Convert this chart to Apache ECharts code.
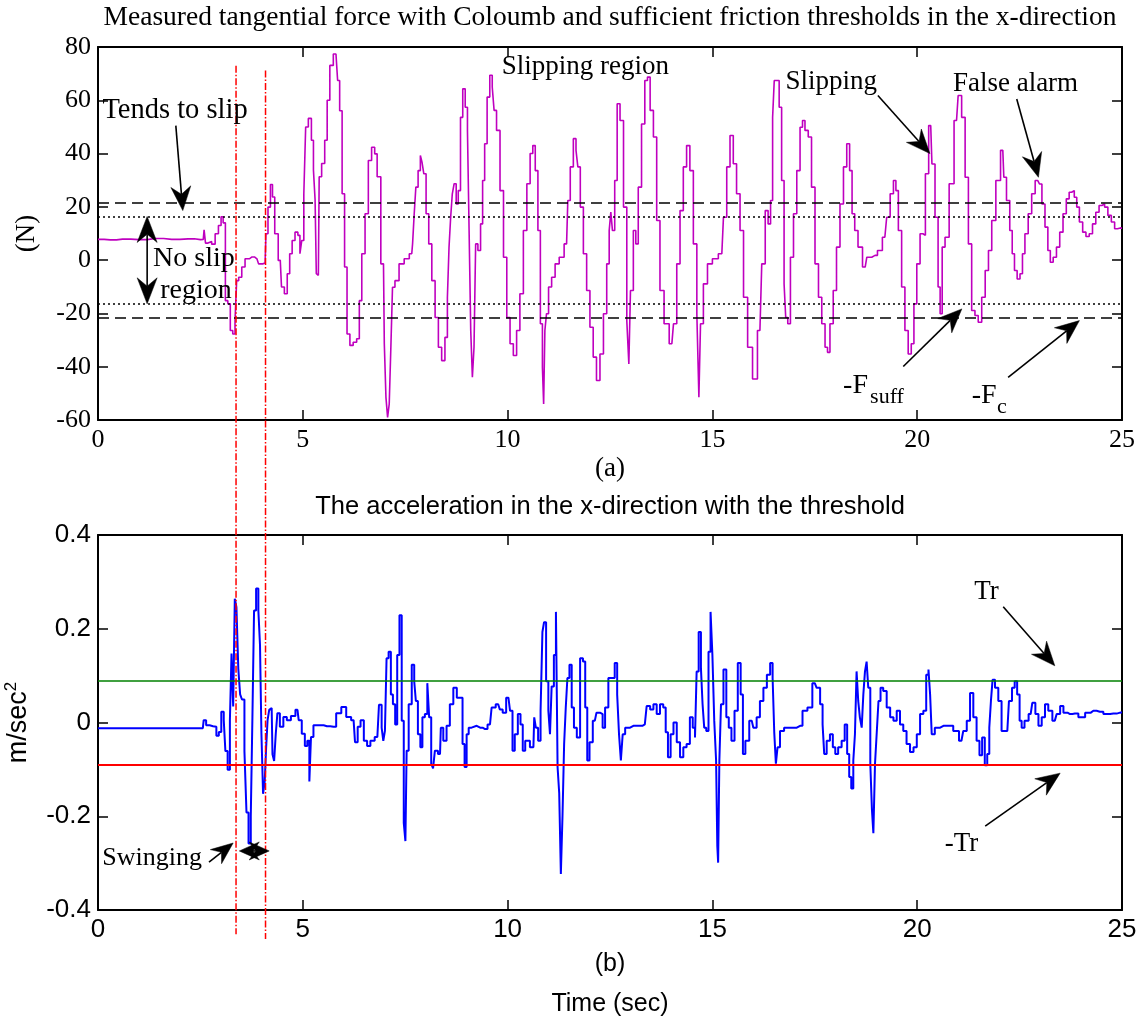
<!DOCTYPE html>
<html>
<head>
<meta charset="utf-8">
<script src="https://cdn.jsdelivr.net/npm/echarts/dist/echarts.min.js"></script>
<style>
  html, body { margin: 0; padding: 0; background: #fff; }
  #main { width: 1147px; height: 1019px; }
</style>
</head>
<body>
<div id="main"></div>
<script>
// Tangential force (N) sampled over time (s)
const forceTime = [0, 0.3, 0.6, 1.0, 1.4, 1.8, 2.2, 2.5, 2.57, 2.61, 2.64, 2.73, 2.82, 2.90, 2.98, 3.03, 3.08, 3.14, 3.20, 3.26, 3.32, 3.37, 3.40, 3.47, 3.55, 3.63, 3.76, 3.88, 3.96, 4.08, 4.12, 4.18, 4.24, 4.28, 4.35, 4.45, 4.51, 4.59, 4.65, 4.71, 4.77, 4.85, 4.91, 4.95, 5.00, 5.05, 5.09, 5.18, 5.24, 5.28, 5.32, 5.34, 5.38, 5.42, 5.50, 5.57, 5.62, 5.70, 5.79, 5.83, 5.87, 5.93, 5.99, 6.05, 6.11, 6.19, 6.27, 6.36, 6.40, 6.48, 6.56, 6.64, 6.72, 6.79, 6.84, 6.97, 7.01, 7.05, 7.09, 7.13, 7.17, 7.21, 7.29, 7.41, 7.54, 7.66, 7.70, 7.74, 7.78, 7.85, 7.89, 7.93, 7.98, 8.04, 8.11, 8.19, 8.27, 8.35, 8.43, 8.51, 8.55, 8.59, 8.63, 8.67, 8.72, 8.77, 8.82, 8.88, 8.93, 9.00, 9.04, 9.08, 9.12, 9.16, 9.20, 9.24, 9.31, 9.37, 9.41, 9.47, 9.53, 9.60, 9.65, 9.69, 9.77, 9.86, 9.94, 10.02, 10.10, 10.18, 10.26, 10.34, 10.43, 10.51, 10.59, 10.64, 10.71, 10.77, 10.83, 10.87, 10.89, 10.93, 10.97, 11.03, 11.12, 11.20, 11.32, 11.44, 11.50, 11.56, 11.65, 11.69, 11.74, 11.81, 11.89, 11.97, 12.05, 12.13, 12.21, 12.30, 12.38, 12.46, 12.50, 12.54, 12.58, 12.65, 12.70, 12.79, 12.87, 12.95, 12.97, 13.03, 13.11, 13.15, 13.23, 13.31, 13.39, 13.44, 13.52, 13.60, 13.68, 13.76, 13.88, 14.01, 14.09, 14.17, 14.25, 14.33, 14.41, 14.49, 14.58, 14.66, 14.68, 14.74, 14.82, 14.94, 15.06, 15.23, 15.31, 15.39, 15.47, 15.55, 15.63, 15.72, 15.80, 15.92, 16.04, 16.16, 16.25, 16.33, 16.39, 16.45, 16.49, 16.53, 16.61, 16.65, 16.73, 16.77, 16.81, 16.87, 16.94, 17.02, 17.10, 17.18, 17.22, 17.30, 17.38, 17.46, 17.55, 17.63, 17.71, 17.79, 17.83, 17.91, 17.99, 18.07, 18.16, 18.24, 18.32, 18.38, 18.44, 18.51, 18.60, 18.73, 18.81, 18.97, 19.09, 19.21, 19.30, 19.38, 19.46, 19.50, 19.58, 19.66, 19.74, 19.82, 19.89, 19.95, 20.03, 20.11, 20.17, 20.23, 20.33, 20.39, 20.48, 20.54, 20.58, 20.64, 20.72, 20.84, 20.96, 21.04, 21.13, 21.21, 21.29, 21.37, 21.45, 21.53, 21.62, 21.70, 21.78, 21.86, 21.98, 22.09, 22.14, 22.22, 22.30, 22.34, 22.41, 22.47, 22.55, 22.59, 22.67, 22.75, 22.84, 22.92, 22.96, 23.01, 23.08, 23.16, 23.22, 23.28, 23.36, 23.44, 23.52, 23.60, 23.68, 23.74, 23.80, 23.87, 23.92, 24.00, 24.08, 24.16, 24.24, 24.32, 24.40, 24.48, 24.54, 24.61, 24.70, 24.78, 24.86, 24.92, 25.0];
const forceN = [7.8, 7.6, 7.9, 7.7, 8.1, 7.8, 8.0, 7.7, 7.8, 11.4, 6.4, 7.0, 6.0, 9.9, 13.0, 16.3, 14.0, -15.2, -16.4, -26.4, -27.7, -22.7, -7.7, -6.4, -2.6, 0.5, 1.2, 0.5, -1.4, -1.1, 9.9, 19.9, 28.4, 23.7, 9.9, -0.1, -10.1, -12.6, -5.1, 2.4, 7.4, 10.5, 9.3, 2.4, 7.4, 24.9, 50, 53.2, 45, 33.8, 22.6, -5.1, -5.7, 31.3, 36.3, 45, 60, 73.1, 77.4, 77.4, 67.4, 56.1, 24.9, -2.6, -27.7, -32, -30.8, -29.5, -15.2, 2.4, 17.4, 37.4, 42.4, 39.9, 31.3, -1.4, -31.4, -51.5, -59, -54, -32.7, -10.2, -7.7, -1.4, 0.5, 2.4, 6.1, 17.4, 27.4, 33.6, 39.3, 36.8, 32.4, 17.4, 6.1, -7.7, -21.5, -32.7, -37.7, -29, -14, 4.9, 16.1, 24.9, 28.7, 21.1, 26.1, 53.6, 64.3, 57.4, 48.6, 11.1, -26.4, -43.9, -32.7, 6.1, 3.6, 13.6, 29.9, 43.7, 61.2, 69.4, 65, 56.2, 48.7, 26.1, 1.1, -21.5, -31.4, -35.8, -26.4, -12.6, 11.1, 28.7, 40, 43, 33.6, 11.1, -23.9, -40.2, -54, -26.4, -20.1, -10.1, -6.4, -1.4, 1.1, 6.1, 22.4, 35, 45.6, 41.2, 35, 19.9, 2.4, -11.4, -25.2, -36.4, -45.2, -35.2, -20.1, -1.4, 11.1, 18, 11.1, 29.9, 58.7, 52.4, 19.9, -22.7, -39, -11.4, 11.1, 6.1, 27.4, 51.1, 67.4, 68.7, 56.2, 46.2, 14.9, -11.4, -23.9, -31.4, -23.9, -1.4, 18.6, 35, 43, 33.6, 6.1, -20.1, -51.5, -23.9, -8.9, -1.4, 0.5, 2.4, 16.1, 35, 46.8, 36.2, 24.9, 11.1, -13.9, -32.7, -44.6, -26.4, -1.4, 18.6, 13.6, 22.4, 53.6, 67.4, 67.4, 57.4, 29.9, -8.9, -21.5, -23.9, 1.1, 17.4, 33.6, 49.9, 52.4, 48.7, 46.2, 27.4, -1.4, -13.9, -23.9, -32.7, -34.6, -23.9, -11.4, 4.9, 21.1, 35, 43.7, 33.6, 17.4, 11.1, 4.9, -2.6, 1.1, 1.8, 3.6, 8.6, 16.1, 24.9, 29.9, 26.1, 11.1, -10.1, -26.4, -35.2, -31.4, -16.4, -1.4, 9.9, 9.3, 32.4, 50.5, 36.1, 16.1, -10.1, -20.1, 4.9, 8.6, 28.7, 52.4, 61.8, 53.6, 31.1, 6.1, -18.9, -20.8, -23.3, -13.9, -3.9, 3.6, 14.9, 29.9, 41.2, 31.1, 22.4, 11.1, 2.4, -3.9, -7.1, -5.1, 2.4, 9.9, 17.4, 24.9, 29.9, 30.5, 28.6, 21.1, 12.4, 3.6, -0.8, 1.1, 4.9, 10.5, 17.4, 23.0, 25.5, 26.1, 23.6, 19.9, 14.3, 10.5, 8.9, 9.9, 13.6, 18.0, 20.5, 21.1, 19.9, 16.8, 14.3, 11.8, 12.1, 12.0];

// Acceleration (m/sec^2) sampled over time (s)
const accTime = [0, 2.56, 2.60, 2.68, 2.77, 2.85, 2.93, 2.97, 3.05, 3.09, 3.13, 3.20, 3.24, 3.28, 3.32, 3.36, 3.40, 3.45, 3.49, 3.54, 3.61, 3.64, 3.71, 3.75, 3.79, 3.83, 3.89, 3.94, 3.97, 4.01, 4.05, 4.09, 4.12, 4.16, 4.20, 4.24, 4.28, 4.32, 4.36, 4.40, 4.48, 4.57, 4.65, 4.77, 4.87, 4.93, 5.02, 5.08, 5.14, 5.18, 5.22, 5.30, 5.43, 5.59, 5.75, 5.88, 6.00, 6.12, 6.24, 6.31, 6.37, 6.45, 6.53, 6.61, 6.69, 6.82, 6.90, 6.95, 6.98, 7.03, 7.06, 7.13, 7.17, 7.23, 7.28, 7.33, 7.39, 7.44, 7.49, 7.52, 7.55, 7.62, 7.70, 7.74, 7.78, 7.84, 7.90, 7.94, 8.02, 8.06, 8.11, 8.16, 8.20, 8.25, 8.35, 8.39, 8.47, 8.55, 8.63, 8.72, 8.80, 8.88, 8.92, 8.98, 9.02, 9.08, 9.16, 9.33, 9.45, 9.57, 9.65, 9.77, 9.85, 9.91, 10.02, 10.10, 10.14, 10.21, 10.29, 10.34, 10.40, 10.46, 10.63, 10.67, 10.71, 10.78, 10.83, 10.87, 10.91, 10.97, 11.02, 11.05, 11.10, 11.16, 11.20, 11.24, 11.28, 11.32, 11.36, 11.40, 11.44, 11.48, 11.54, 11.59, 11.65, 11.73, 11.81, 11.87, 11.92, 11.97, 12.03, 12.13, 12.21, 12.30, 12.34, 12.42, 12.50, 12.58, 12.65, 12.70, 12.74, 12.79, 12.83, 12.91, 13.07, 13.23, 13.35, 13.44, 13.52, 13.60, 13.68, 13.76, 13.84, 13.88, 13.95, 14.01, 14.09, 14.17, 14.25, 14.33, 14.41, 14.49, 14.55, 14.60, 14.63, 14.70, 14.74, 14.78, 14.82, 14.88, 14.93, 14.98, 15.02, 15.07, 15.11, 15.13, 15.15, 15.19, 15.23, 15.31, 15.37, 15.43, 15.50, 15.58, 15.66, 15.72, 15.77, 15.84, 15.96, 16.04, 16.12, 16.20, 16.29, 16.37, 16.45, 16.49, 16.53, 16.57, 16.61, 16.69, 16.81, 16.98, 17.14, 17.26, 17.38, 17.50, 17.59, 17.67, 17.71, 17.75, 17.83, 17.91, 17.97, 18.03, 18.11, 18.20, 18.26, 18.32, 18.36, 18.42, 18.46, 18.50, 18.54, 18.58, 18.62, 18.67, 18.70, 18.75, 18.78, 18.83, 18.88, 18.91, 18.95, 18.99, 19.03, 19.08, 19.13, 19.21, 19.30, 19.38, 19.46, 19.54, 19.62, 19.70, 19.78, 19.87, 19.95, 20.03, 20.11, 20.19, 20.25, 20.30, 20.33, 20.38, 20.48, 20.64, 20.80, 20.96, 21.08, 21.17, 21.25, 21.33, 21.41, 21.49, 21.55, 21.62, 21.68, 21.74, 21.78, 21.82, 21.86, 21.94, 22.02, 22.10, 22.20, 22.28, 22.35, 22.41, 22.47, 22.53, 22.57, 22.67, 22.77, 22.85, 22.92, 23.00, 23.08, 23.16, 23.24, 23.36, 23.45, 23.53, 23.61, 23.73, 23.85, 24.02, 24.18, 24.30, 24.46, 24.63, 24.79, 24.95, 25.0];
const accVal = [-0.012, -0.012, 0.005, -0.006, -0.008, -0.009, -0.028, -0.020, 0.023, 0.005, -0.061, -0.101, 0.005, 0.147, 0.034, 0.264, 0.246, 0.115, 0.060, 0.049, -0.061, -0.192, -0.258, -0.199, 0.012, 0.239, 0.286, 0.239, 0.166, -0.024, -0.152, -0.126, -0.053, 0.005, 0.027, 0.031, -0.068, -0.082, -0.024, 0.020, -0.009, 0.012, 0.005, 0.014, 0.027, 0.005, -0.024, -0.050, -0.039, -0.126, -0.031, -0.006, -0.006, -0.008, -0.009, 0.020, 0.033, 0.012, 0.005, -0.042, -0.009, 0.005, -0.039, -0.050, -0.039, -0.031, 0.038, -0.011, -0.039, -0.018, 0.137, 0.151, 0.060, 0.039, -0.004, 0.144, 0.229, 0.004, -0.214, -0.253, -0.060, 0.039, 0.123, 0.088, 0.046, -0.025, -0.053, 0.011, 0.018, 0.084, 0.011, -0.088, -0.098, -0.060, -0.067, -0.011, -0.039, -0.007, 0.039, 0.074, 0.053, 0.053, -0.046, -0.095, -0.025, -0.011, -0.007, -0.011, -0.014, -0.004, 0.032, 0.039, 0.028, 0.021, 0.053, 0.025, -0.060, -0.025, 0.018, -0.004, -0.060, -0.039, -0.053, 0.011, -0.011, -0.039, 0.025, 0.193, 0.214, 0.088, 0.025, -0.025, 0.077, 0.144, 0.236, -0.095, -0.151, -0.323, -0.200, -0.046, 0.032, 0.095, 0.123, 0.032, -0.011, -0.032, 0.137, 0.130, 0.032, -0.081, -0.042, 0.004, 0.021, 0.018, -0.011, 0.032, 0.095, 0.095, 0.127, 0.060, -0.025, -0.081, -0.025, -0.011, -0.007, -0.007, -0.004, 0.035, 0.028, 0.039, 0.018, 0.039, 0.032, -0.021, -0.074, -0.025, 0.000, -0.042, -0.074, -0.053, -0.046, 0.011, -0.011, -0.032, 0.109, 0.193, 0.116, 0.039, -0.011, -0.018, 0.151, 0.236, 0.144, 0.004, -0.081, -0.264, -0.299, -0.081, 0.039, 0.113, 0.011, -0.011, -0.039, 0.025, 0.127, 0.060, -0.067, -0.039, 0.004, -0.011, 0.011, 0.046, 0.074, 0.102, 0.127, 0.095, -0.021, -0.088, -0.053, -0.018, -0.011, -0.011, -0.007, 0.025, 0.032, 0.084, 0.074, 0.039, -0.004, -0.067, -0.039, -0.025, -0.053, -0.067, -0.053, -0.039, -0.004, -0.067, -0.116, -0.141, -0.081, -0.025, 0.109, 0.046, 0.011, -0.011, 0.060, 0.109, 0.130, 0.074, -0.088, -0.186, -0.236, -0.088, -0.025, 0.046, 0.074, 0.067, 0.032, 0.011, 0.004, 0.025, -0.004, -0.018, -0.046, -0.063, -0.053, -0.025, 0.018, 0.025, 0.102, 0.113, 0.060, -0.025, -0.011, -0.007, -0.007, -0.018, -0.039, -0.018, 0.004, 0.063, 0.011, -0.039, -0.070, -0.032, -0.091, -0.067, -0.011, 0.046, 0.091, 0.074, 0.046, -0.018, -0.018, 0.046, 0.074, 0.088, 0.060, 0.004, -0.011, 0.004, 0.018, 0.042, 0.018, -0.007, 0.011, 0.039, 0.025, 0.004, 0.018, 0.035, 0.021, 0.018, 0.019, 0.011, 0.021, 0.025, 0.023, 0.018, 0.019, 0.021, 0.022];

// Friction thresholds (N) and acceleration threshold (m/sec^2)
const frictionCoulomb = 21.7;
const frictionSufficient = 16.4;
const accThreshold = 0.09;
// Times (s) of the swing events marked across both panels
const swingEvents = [3.37, 4.09];

const SERIF = '"Liberation Serif", "Times New Roman", serif';
const SANS = '"Liberation Sans", Arial, sans-serif';

const zip = (a, b) => a.slice(0, Math.min(a.length, b.length)).map((v, i) => [v, b[i]]);

const chart = echarts.init(document.getElementById('main'), null, { renderer: 'canvas' });

function xAxisDef(grid, pos, font, fontSize, showLabel, name, nameGap, nameStyle) {
  return {
    gridIndex: grid, type: 'value', min: 0, max: 25, interval: 5, position: pos,
    axisLine: { show: true, onZero: false, lineStyle: { color: '#000', width: 2 } },
    axisTick: { show: true, inside: true, length: 10, lineStyle: { color: '#000', width: 1.5 } },
    axisLabel: { show: showLabel, fontFamily: font, fontSize: fontSize, color: '#000', margin: 7 },
    splitLine: { show: false },
    name: name || '', nameLocation: 'middle', nameGap: nameGap || 0,
    nameTextStyle: nameStyle || {}
  };
}
function yAxisDef(grid, pos, min, max, interval, font, fontSize, showLabel, name, nameGap, nameStyle) {
  return {
    gridIndex: grid, type: 'value', min, max, interval, position: pos,
    axisLine: { show: true, onZero: false, lineStyle: { color: '#000', width: 2 } },
    axisTick: { show: true, inside: true, length: 10, lineStyle: { color: '#000', width: 1.5 } },
    axisLabel: { show: showLabel, fontFamily: font, fontSize: fontSize, color: '#000', margin: 7 },
    splitLine: { show: false },
    name: name || '', nameLocation: 'middle', nameGap: nameGap || 0, nameRotate: 90,
    nameTextStyle: nameStyle || {}
  };
}

const option = {
  animation: false,
  backgroundColor: '#fff',
  grid: [
    { left: 98, right: 25, top: 47, height: 373, containLabel: false, outerBoundsMode: 'none' },
    { left: 98, right: 25, top: 535, height: 375, containLabel: false, outerBoundsMode: 'none' }
  ],
  xAxis: [
    xAxisDef(0, 'bottom', SERIF, 26, true, '(a)', 32,
      { fontFamily: SERIF, fontSize: 27, color: '#000', lineHeight: 30 }),
    xAxisDef(0, 'top', SERIF, 26, false),
    xAxisDef(1, 'bottom', SANS, 26, true, '(b)\nTime (sec)', 32,
      { fontFamily: SANS, fontSize: 25, color: '#000', lineHeight: 40 }),
    xAxisDef(1, 'top', SANS, 26, false)
  ],
  yAxis: [
    yAxisDef(0, 'left', -60, 80, 20, SERIF, 26, true, '(N)', 58,
      { fontFamily: SERIF, fontSize: 27, color: '#000' }),
    yAxisDef(0, 'right', -60, 80, 20, SERIF, 26, false),
    yAxisDef(1, 'left', -0.4, 0.4, 0.2, SANS, 26, true, 'm/sec{sup|2}', 64,
      { fontFamily: SANS, fontSize: 27, color: '#000',
        rich: { sup: { fontFamily: SANS, fontSize: 17, color: '#000', verticalAlign: 'top', padding: [0, 0, 14, 0] } } }),
    yAxisDef(1, 'right', -0.4, 0.4, 0.2, SANS, 26, false)
  ],
  series: [
    {
      name: 'Force', type: 'line', xAxisIndex: 0, yAxisIndex: 0,
      data: zip(forceTime, forceN), showSymbol: false, symbol: 'none', step: 'middle',
      lineStyle: { color: '#bf00bf', width: 1.6 }, z: 3,
      markLine: {
        silent: true, symbol: ['none', 'none'], label: { show: false },
        data: [
          { yAxis: frictionCoulomb, lineStyle: { color: '#000', type: [11, 6], width: 1.5 } },
          { yAxis: -frictionCoulomb, lineStyle: { color: '#000', type: [11, 6], width: 1.5 } },
          { yAxis: frictionSufficient, lineStyle: { color: '#000', type: [2, 3], width: 1.5 } },
          { yAxis: -frictionSufficient, lineStyle: { color: '#000', type: [2, 3], width: 1.5 } }
        ]
      }
    },
    {
      name: 'Acceleration', type: 'line', xAxisIndex: 2, yAxisIndex: 2,
      data: zip(accTime, accVal), showSymbol: false, symbol: 'none', step: 'middle',
      lineStyle: { color: '#0000ff', width: 2 }, z: 3,
      markLine: {
        silent: true, symbol: ['none', 'none'], label: { show: false },
        data: [
          { yAxis: accThreshold, lineStyle: { color: '#008000', type: 'solid', width: 1.5 } },
          { yAxis: -accThreshold, lineStyle: { color: '#ff0000', type: 'solid', width: 1.8 } }
        ]
      }
    }
  ]
};

chart.setOption(option);

// ---- annotations placed in data coordinates of each panel ----
const P0 = (x, y) => chart.convertToPixel({ seriesIndex: 0 }, [x, y]);
const P1 = (x, y) => chart.convertToPixel({ seriesIndex: 1 }, [x, y]);

function head(tip, ux, uy, len, half) {
  const nx = -uy, ny = ux;
  const bx = tip[0] - ux * len, by = tip[1] - uy * len;
  const notch = [tip[0] - ux * len * 0.68, tip[1] - uy * len * 0.68];
  return {
    el: {
      type: 'polygon', z: 10, silent: true,
      shape: { points: [tip, [bx + nx * half, by + ny * half], notch, [bx - nx * half, by - ny * half]] },
      style: { fill: '#000', stroke: '#000', lineWidth: 0.5 }
    },
    notch
  };
}
function arrow(a, b, opts) {
  opts = opts || {};
  const len = opts.len || 24, half = opts.half || 10;
  const dx = b[0] - a[0], dy = b[1] - a[1], L = Math.hypot(dx, dy);
  const ux = dx / L, uy = dy / L;
  const out = [];
  const h1 = head(b, ux, uy, len, half);
  out.push(h1.el);
  let start = a;
  if (opts.both) {
    const h0 = head(a, -ux, -uy, len, half);
    out.push(h0.el);
    start = h0.notch;
  }
  out.push({
    type: 'line', z: 10, silent: true,
    shape: { x1: start[0], y1: start[1], x2: h1.notch[0], y2: h1.notch[1] },
    style: { stroke: '#000', lineWidth: 1.6 }
  });
  return out;
}
function text(p, str, font, align) {
  return {
    type: 'text', z: 11, silent: true, x: p[0], y: p[1],
    style: {
      text: str, font, fill: '#000',
      align: align || 'center', verticalAlign: 'middle',
      textAlign: align || 'center', textVerticalAlign: 'middle'
    }
  };
}

const els = [];
const topY = P0(12.5, 80)[1];
const midX = P0(12.5, 0)[0];

// panel titles
els.push(text([midX, topY - 29],
  'Measured tangential force with Coloumb and sufficient friction thresholds in the x-direction',
  '27.5px ' + SERIF));
els.push(text([midX, P1(12.5, 0.4)[1] - 28],
  'The acceleration in the x-direction with the threshold', '25.5px ' + SANS));

// swing event markers spanning both panels
const eventTop = [73, 71.2];
const eventBottom = [-0.452, -0.462];
swingEvents.forEach((t, i) => {
  const a = P0(t, eventTop[i]);
  const b = P1(t, eventBottom[i]);
  els.push({
    type: 'line', z: 9, silent: true,
    shape: { x1: a[0], y1: a[1], x2: b[0], y2: b[1] },
    style: { stroke: '#ff0000', lineWidth: 1.5, lineDash: [7, 2, 1.5, 2] }
  });
});

const F27 = '27px ' + SERIF;
// upper panel notes
els.push(text(P0(1.88, 56.2), 'Tends to slip', '28.5px ' + SERIF));
els.push(...arrow(P0(1.90, 50.5), P0(2.07, 18.6)));
els.push(...arrow(P0(1.2, frictionSufficient), P0(1.2, -frictionSufficient), { both: true, len: 26, half: 10 }));
els.push(text(P0(2.34, 0.6), 'No slip', '28px ' + SERIF));
els.push(text(P0(2.39, -11.4), 'region', '28px ' + SERIF));
els.push(text(P0(11.9, 72.4), 'Slipping region', F27));
els.push(text(P0(17.9, 66.8), 'Slipping', F27));
els.push(...arrow(P0(19.04, 61.8), P0(20.31, 40.0)));
els.push(text(P0(22.4, 66.2), 'False alarm', F27));
els.push(...arrow(P0(22.43, 60.5), P0(22.96, 31.1)));
els.push(text(P0(18.19, -47.1), '-F', '28px ' + SERIF, 'left'));
els.push(text(P0(18.85, -51.6), 'suff', '22px ' + SERIF, 'left'));
els.push(...arrow(P0(19.66, -39.9), P0(21.09, -18.3)));
els.push(text(P0(21.33, -50.8), '-F', '28px ' + SERIF, 'left'));
els.push(text(P0(21.95, -55.2), 'c', '22px ' + SERIF, 'left'));
els.push(...arrow(P0(22.22, -44.0), P0(23.96, -22.7)));

// lower panel notes
els.push(text(P1(21.69, 0.279), 'Tr', F27));
els.push(...arrow(P1(22.1, 0.247), P1(23.36, 0.121)));
els.push(text(P1(21.08, -0.258), '-Tr', F27));
els.push(...arrow(P1(21.66, -0.221), P1(23.49, -0.108)));
els.push(text(P1(1.32, -0.289), 'Swinging', '26px ' + SERIF));
els.push(...arrow(P1(2.71, -0.298), P1(3.30, -0.257), { len: 22, half: 9 }));
els.push(...arrow(P1(3.45, -0.274), P1(4.18, -0.274), { both: true, len: 20, half: 9 }));

chart.setOption({ graphic: { elements: els } });
</script>
</body>
</html>
